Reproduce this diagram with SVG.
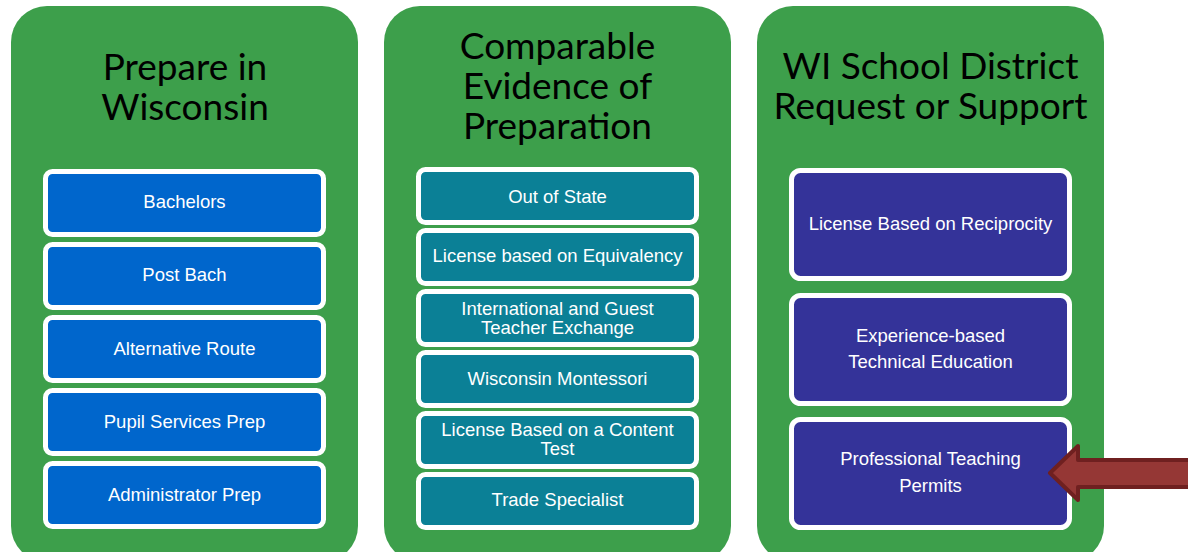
<svg xmlns="http://www.w3.org/2000/svg" width="1188" height="552" viewBox="0 0 1188 552">
<defs>
<style>
.panel{fill:#3d9f4b;}
.title{font-family:Lato,"Liberation Sans",sans-serif;font-size:37px;fill:#000;text-anchor:middle;}
.box{stroke:#ffffff;stroke-width:5;}
.b1{fill:#0066cc;}
.b2{fill:#0b8096;}
.b3{fill:#343399;}
.lbl{font-family:"Liberation Sans",Arial,sans-serif;font-size:18.5px;fill:#ffffff;text-anchor:middle;}
</style>
</defs>
<rect width="1188" height="552" fill="#ffffff"/>
<g id="panel-prepare">
<rect class="panel" x="11" y="6" width="347" height="556" rx="36"/>
<text class="title" x="185" y="80">Prepare in</text>
<text class="title" x="185" y="120">Wisconsin</text>
</g>
<g id="panel-comparable">
<rect class="panel" x="384" y="6" width="347" height="556" rx="36"/>
<text class="title" x="557.5" y="59">Comparable</text>
<text class="title" x="557.5" y="99">Evidence of</text>
<text class="title" x="557.5" y="139">Preparation</text>
</g>
<g id="panel-district">
<rect class="panel" x="757" y="6" width="347" height="556" rx="36"/>
<text class="title" x="930.5" y="79">WI School District</text>
<text class="title" x="930.5" y="119">Request or Support</text>
</g>
<g id="n-bachelors"><rect class="box b1" x="45.5" y="171.5" width="278" height="63" rx="7"/><text class="lbl" x="184.5" y="208">Bachelors</text></g>
<g id="n-postbach"><rect class="box b1" x="45.5" y="244.5" width="278" height="63" rx="7"/><text class="lbl" x="184.5" y="281">Post Bach</text></g>
<g id="n-altroute"><rect class="box b1" x="45.5" y="317.5" width="278" height="63" rx="7"/><text class="lbl" x="184.5" y="355">Alternative Route</text></g>
<g id="n-pupil"><rect class="box b1" x="45.5" y="390.5" width="278" height="63" rx="7"/><text class="lbl" x="184.5" y="428">Pupil Services Prep</text></g>
<g id="n-admin"><rect class="box b1" x="45.5" y="463.5" width="278" height="63" rx="7"/><text class="lbl" x="184.5" y="501">Administrator Prep</text></g>
<g id="n-outofstate"><rect class="box b2" x="418.5" y="169.5" width="278" height="53" rx="7"/><text class="lbl" x="557.5" y="203">Out of State</text></g>
<g id="n-equivalency"><rect class="box b2" x="418.5" y="230.5" width="278" height="53" rx="7"/><text class="lbl" x="557.5" y="262">License based on Equivalency</text></g>
<g id="n-international"><rect class="box b2" x="418.5" y="291.5" width="278" height="53" rx="7"/><text class="lbl" x="557.5" y="315">International and Guest</text><text class="lbl" x="557.5" y="334">Teacher Exchange</text></g>
<g id="n-montessori"><rect class="box b2" x="418.5" y="352.5" width="278" height="53" rx="7"/><text class="lbl" x="557.5" y="385">Wisconsin Montessori</text></g>
<g id="n-contenttest"><rect class="box b2" x="418.5" y="413.5" width="278" height="53" rx="7"/><text class="lbl" x="557.5" y="436">License Based on a Content</text><text class="lbl" x="557.5" y="455">Test</text></g>
<g id="n-trade"><rect class="box b2" x="418.5" y="474.5" width="278" height="53" rx="7"/><text class="lbl" x="557.5" y="506">Trade Specialist</text></g>
<g id="n-reciprocity"><rect class="box b3" x="791.5" y="170.5" width="278" height="108" rx="9"/><text class="lbl" x="930.5" y="230">License Based on Reciprocity</text></g>
<g id="n-experience"><rect class="box b3" x="791.5" y="295.5" width="278" height="108" rx="9"/><text class="lbl" x="930.5" y="342">Experience-based</text><text class="lbl" x="930.5" y="368">Technical Education</text></g>
<g id="n-permits"><rect class="box b3" x="791.5" y="419.5" width="278" height="108" rx="9"/><text class="lbl" x="930.5" y="465">Professional Teaching</text><text class="lbl" x="930.5" y="492">Permits</text></g>
<g id="connectors">
<polygon points="1050,473 1078,446 1078,460 1192,460 1192,487 1078,487 1078,500" fill="#953735" stroke="#6f2020" stroke-width="4" stroke-linejoin="round"/>
</g>
</svg>
